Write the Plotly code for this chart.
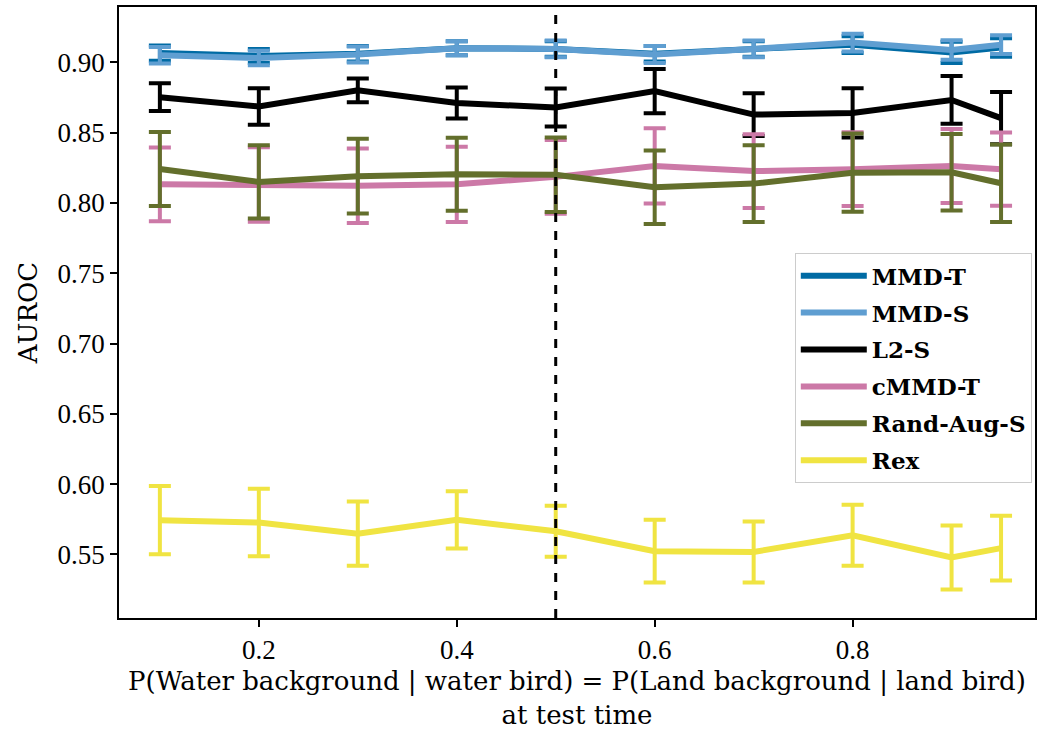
import plotly.graph_objects as go

# Test-time spurious-correlation strength
p_test = [0.1, 0.2, 0.3, 0.4, 0.5, 0.6, 0.7, 0.8, 0.9, 0.95]

# Mean AUROC and error per method
mmd_t = [0.9065, 0.9045, 0.9060, 0.9100, 0.9095, 0.9060, 0.9095, 0.9125, 0.9070, 0.9105]
mmd_t_err = [0.0055, 0.0050, 0.0055, 0.0050, 0.0055, 0.0055, 0.0055, 0.0060, 0.0075, 0.0065]
mmd_s = [0.9050, 0.9030, 0.9055, 0.9100, 0.9095, 0.9055, 0.9095, 0.9140, 0.9087, 0.9125]
mmd_s_err = [0.0059, 0.0052, 0.0057, 0.0050, 0.0060, 0.0060, 0.0060, 0.0063, 0.0070, 0.0067]
l2_s = [0.8752, 0.8685, 0.8800, 0.8710, 0.8678, 0.8795, 0.8628, 0.8640, 0.8732, 0.8603]
l2_s_err = [0.0098, 0.0130, 0.0085, 0.0110, 0.0135, 0.0157, 0.0152, 0.0175, 0.0170, 0.0186]
cmmd_t = [0.8132, 0.8130, 0.8122, 0.8132, 0.8185, 0.8263, 0.8226, 0.8240, 0.8262, 0.8240]
cmmd_t_err = [0.0262, 0.0265, 0.0265, 0.0268, 0.0262, 0.0267, 0.0262, 0.0263, 0.0263, 0.0260]
rand_aug_s = [0.8241, 0.8149, 0.8190, 0.8204, 0.8200, 0.8111, 0.8137, 0.8215, 0.8218, 0.8140]
rand_aug_s_err = [0.0263, 0.0260, 0.0266, 0.0260, 0.0265, 0.0261, 0.0273, 0.0278, 0.0272, 0.0276]
rex = [0.5744, 0.5727, 0.5648, 0.5746, 0.5665, 0.5523, 0.5518, 0.5636, 0.5478, 0.5545]
rex_err = [0.0243, 0.0240, 0.0229, 0.0203, 0.0181, 0.0223, 0.0217, 0.0217, 0.0228, 0.0231]

series = [
    ("MMD-T", mmd_t, mmd_t_err, "#006BA4"),
    ("MMD-S", mmd_s, mmd_s_err, "#5F9ED1"),
    ("L2-S", l2_s, l2_s_err, "#000000"),
    ("cMMD-T", cmmd_t, cmmd_t_err, "#CC79A7"),
    ("Rand-Aug-S", rand_aug_s, rand_aug_s_err, "#636F2C"),
    ("Rex", rex, rex_err, "#F0E442"),
]

SERIF = "Liberation Serif"
WIDE_SERIF = "DejaVu Serif"

fig = go.Figure()
for name, vals, errs, color in series:
    fig.add_trace(go.Scatter(
        x=p_test, y=vals, name=name, mode="lines", legendgroup=name,
        line=dict(color=color, width=6),
        error_y=dict(type="data", array=errs, visible=True,
                     color=color, thickness=4, width=11),
    ))

# Balanced setting marker
fig.add_vline(x=0.5, line=dict(color="black", width=3, dash="dash"), layer="above")

fig.update_layout(
    width=1039, height=734,
    margin=dict(l=119, r=2, t=7, b=116),
    paper_bgcolor="white", plot_bgcolor="white",
    font=dict(family=SERIF, size=27, color="black"),
    showlegend=True,
    legend=dict(
        x=0.9965, y=0.597, xanchor="right", yanchor="top",
        bgcolor="rgba(255,255,255,0.85)", bordercolor="#cccccc", borderwidth=1,
        font=dict(family=WIDE_SERIF, size=23, color="black", weight="bold"),
        itemwidth=66, tracegroupgap=4,
    ),
)

axis_common = dict(
    showline=True, linecolor="black", linewidth=1.5, mirror=True,
    ticks="outside", ticklen=7, tickwidth=1.5, tickcolor="black",
    showgrid=False, zeroline=False,
    tickfont=dict(family=SERIF, size=27),
)
fig.update_xaxes(
    range=[0.0587, 0.9843],
    tickvals=[0.2, 0.4, 0.6, 0.8], ticktext=["0.2", "0.4", "0.6", "0.8"],
    title=dict(text="P(Water background | water bird) = P(Land background | land bird)<br>at test time",
               font=dict(family=WIDE_SERIF, size=26), standoff=8),
    **axis_common,
)
fig.update_yaxes(
    range=[0.5048, 0.9393],
    tickvals=[0.55, 0.60, 0.65, 0.70, 0.75, 0.80, 0.85, 0.90],
    ticktext=["0.55", "0.60", "0.65", "0.70", "0.75", "0.80", "0.85", "0.90"],
    title=dict(text="AUROC", font=dict(family=WIDE_SERIF, size=26), standoff=12),
    **axis_common,
)

fig.write_html("out.html")
